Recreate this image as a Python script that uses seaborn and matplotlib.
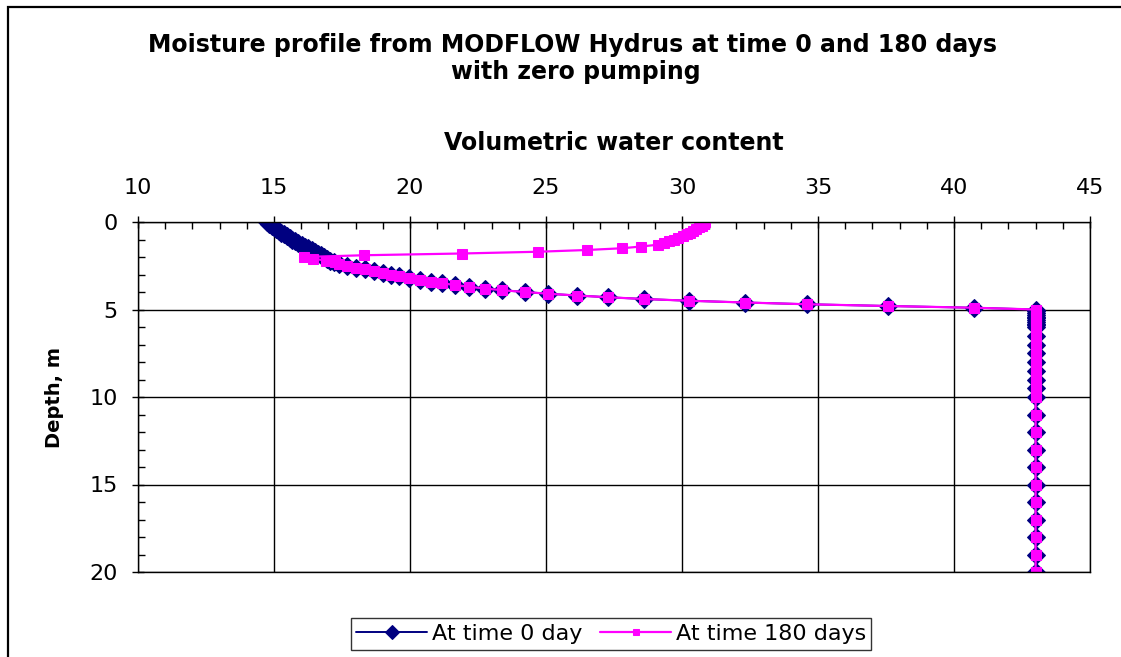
import matplotlib
matplotlib.use('Agg')
import matplotlib.pyplot as plt
import matplotlib.patches as mpatches
from matplotlib.ticker import MultipleLocator
import seaborn as sns
import numpy as np

# near-surface nodes (m) and water content for each time
depth_top = [0.0, 0.1, 0.2, 0.3, 0.4, 0.5, 0.6, 0.7, 0.8, 0.9, 1.0, 1.1,
             1.2, 1.3, 1.4, 1.5, 1.6, 1.7, 1.8, 1.9, 2.0, 2.1, 2.2, 2.3]
theta_top_0day = [14.75, 14.83, 14.91, 14.99, 15.08, 15.17, 15.27, 15.37,
                  15.47, 15.57, 15.68, 15.79, 15.90, 16.02, 16.14, 16.26,
                  16.38, 16.50, 16.62, 16.74, 16.85, 16.95, 17.07, 17.20]
theta_top_180day = [30.85, 30.80, 30.72, 30.63, 30.53, 30.42, 30.30, 30.17,
                    30.02, 29.86, 29.70, 29.52, 29.33, 29.10, 28.50, 27.80,
                    26.50, 24.70, 21.90, 18.30, 16.10, 16.45, 16.90, 17.25]

# deeper nodes, identical for both times
depth_deep = [2.4, 2.5, 2.6, 2.7, 2.8, 2.9, 3.0, 3.1, 3.2, 3.3, 3.4, 3.5,
              3.6, 3.7, 3.8, 3.9, 4.0, 4.1, 4.2, 4.3, 4.4, 4.5, 4.6, 4.7,
              4.8, 4.9, 5.0, 5.1, 5.2, 5.3, 5.4, 5.5, 5.6, 5.7, 5.8, 5.9,
              6.0, 6.5, 7.0, 7.5, 8.0, 8.5, 9.0, 9.5, 10.0, 11.0, 12.0,
              13.0, 14.0, 15.0, 16.0, 17.0, 18.0, 19.0, 20.0]
theta_deep = [17.40, 17.68, 18.01, 18.35, 18.68, 19.01, 19.30, 19.60, 19.96,
              20.37, 20.77, 21.18, 21.65, 22.17, 22.76, 23.40, 24.23, 25.07,
              26.14, 27.28, 28.60, 30.26, 32.32, 34.60, 37.57, 40.74, 43.00,
              43.00, 43.00, 43.00, 43.00, 43.00, 43.00, 43.00, 43.00, 43.00,
              43.00, 43.00, 43.00, 43.00, 43.00, 43.00, 43.00, 43.00, 43.00,
              43.00, 43.00, 43.00, 43.00, 43.00, 43.00, 43.00, 43.00, 43.00,
              43.00]

labels = ['At time 0 day', 'At time 180 days']
NAVY = '#000080'
MAGENTA = '#FF00FF'

sns.set_style('white')
plt.rcParams['font.family'] = ['DejaVu Sans']
plt.rcParams['text.color'] = 'black'
plt.rcParams['axes.labelcolor'] = 'black'
plt.rcParams['xtick.color'] = 'black'
plt.rcParams['ytick.color'] = 'black'

fig = plt.figure(figsize=(11.21, 6.57), dpi=100)
ax = fig.add_axes([138 / 1121, 1 - 572 / 657, (1090 - 138) / 1121, (572 - 222) / 657])

d0 = np.array(depth_top + depth_deep)
t0 = np.array(theta_top_0day + theta_deep)
d180 = np.array(depth_top + depth_deep)
t180 = np.array(theta_top_180day + theta_deep)

sns.lineplot(x=t0, y=d0, sort=False, estimator=None, ax=ax, color=NAVY,
             lw=1.4, marker='D', ms=9.5, mfc=NAVY, mec=NAVY, label=labels[0])
sns.lineplot(x=t180, y=d180, sort=False, estimator=None, ax=ax, color=MAGENTA,
             lw=1.6, marker='s', ms=7, mfc=MAGENTA, mec=MAGENTA, label=labels[1])

ax.set_xlim(10, 45)
ax.set_ylim(20, 0)
ax.xaxis.tick_top()
ax.xaxis.set_label_position('top')
ax.xaxis.set_major_locator(MultipleLocator(5))
ax.xaxis.set_minor_locator(MultipleLocator(1))
ax.yaxis.set_major_locator(MultipleLocator(5))
ax.yaxis.set_minor_locator(MultipleLocator(1))
ax.grid(True, which='major', color='black', lw=1)
ax.set_axisbelow(True)
ax.tick_params(which='major', direction='inout', length=9, width=1, color='black',
               labelcolor='black', labelsize=16, top=True, bottom=False, left=True)
ax.tick_params(axis='x', which='major', pad=13)
ax.tick_params(axis='y', which='major', pad=10)
ax.tick_params(which='minor', direction='in', length=5, width=1, color='black',
               top=True, bottom=False, left=True)
for s in ax.spines.values():
    s.set_color('black')
    s.set_linewidth(1)

ax.set_xlabel('Volumetric water content', fontsize=17, fontweight='bold',
              labelpad=20, color='black')
ax.set_ylabel('Depth, m', fontsize=14, fontweight='bold', labelpad=18, color='black')

fig.text(0.511, 1 - 45 / 657, 'Moisture profile from MODFLOW Hydrus at time 0 and 180 days',
         ha='center', va='center', fontsize=17, fontweight='bold', color='black')
fig.text(0.514, 1 - 72 / 657, 'with zero pumping',
         ha='center', va='center', fontsize=17, fontweight='bold', color='black')

ax.get_legend().remove()
handles, lbls = ax.get_legend_handles_labels()
leg = fig.legend(handles, lbls, loc='center', bbox_to_anchor=(611 / 1121, 1 - 634 / 657),
                 ncol=2, fontsize=16, frameon=True, fancybox=False, handlelength=3.2,
                 columnspacing=0.8, handletextpad=0.2, borderpad=0.25, markerscale=0.7,
                 labelcolor='black')
leg.get_frame().set_edgecolor('black')
leg.get_frame().set_linewidth(1)

fig.patches.append(mpatches.Rectangle((8 / 1121, -0.1), 1.2, 1.1 - 7 / 657,
                                      transform=fig.transFigure, fill=False,
                                      edgecolor='black', lw=1.6))

fig.savefig('out.png', dpi=100, facecolor='white')
